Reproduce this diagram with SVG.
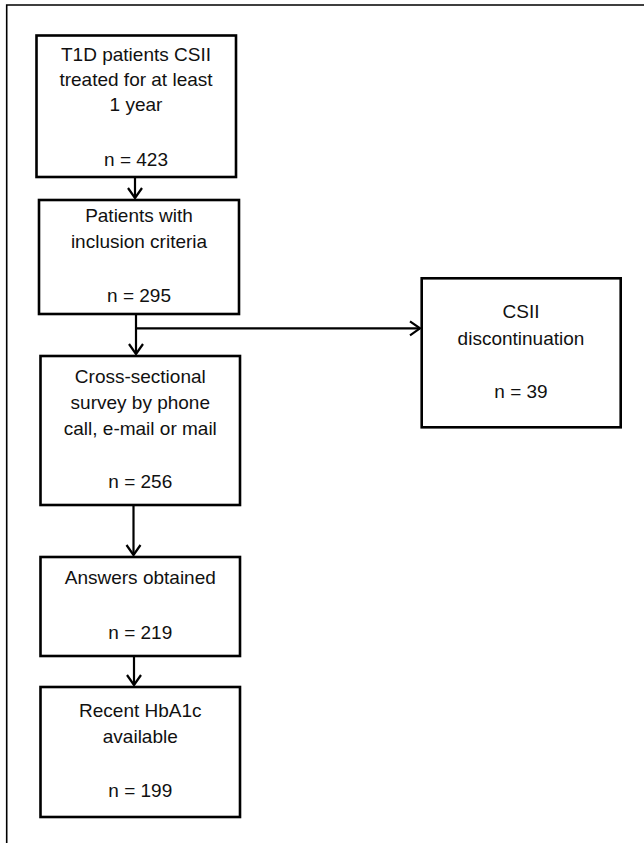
<svg xmlns="http://www.w3.org/2000/svg" width="644" height="843" viewBox="0 0 644 843">
<style>
.box{fill:#fff;stroke:#000;stroke-width:2.6}
.t{font-family:"Liberation Sans",Arial,sans-serif;font-size:19px;fill:#111;text-anchor:middle}
.c{fill:none;stroke:#000;stroke-width:2.2}
.frame{fill:none;stroke:#000;stroke-width:1.6}
</style>
<defs>
<marker id="arr" markerUnits="userSpaceOnUse" markerWidth="20" markerHeight="20" viewBox="-12 -10 14 20" refX="0" refY="0" orient="auto">
<path d="M-10,-7 L0,0 L-10,7" fill="none" stroke="#000" stroke-width="2.2" stroke-linejoin="miter"/>
</marker>
</defs>
<rect width="644" height="843" fill="#fff"/>
<path class="frame" d="M6.7,843 V5 H644"/>
<g id="connectors">
<line class="c" x1="135" y1="177" x2="135" y2="198" marker-end="url(#arr)"/>
<line class="c" x1="136" y1="314" x2="136" y2="354" marker-end="url(#arr)"/>
<line class="c" x1="136" y1="328.3" x2="420" y2="328.3" marker-end="url(#arr)"/>
<line class="c" x1="133.5" y1="505" x2="133.5" y2="555" marker-end="url(#arr)"/>
<line class="c" x1="134" y1="656" x2="134" y2="685" marker-end="url(#arr)"/>
</g>
<g id="n1">
<rect class="box" x="36.5" y="35.5" width="199.5" height="141.5"/>
<text class="t" x="136" y="61">T1D patients CSII</text>
<text class="t" x="136" y="85.5">treated for at least</text>
<text class="t" x="136" y="110.5">1 year</text>
<text class="t" x="136" y="166">n = 423</text>
</g>
<g id="n2">
<rect class="box" x="39" y="200" width="200" height="114"/>
<text class="t" x="139" y="221.5">Patients with</text>
<text class="t" x="139" y="248">inclusion criteria</text>
<text class="t" x="139" y="301.5">n = 295</text>
</g>
<g id="n3">
<rect class="box" x="40.5" y="356" width="199.5" height="149"/>
<text class="t" x="140.3" y="382.5">Cross-sectional</text>
<text class="t" x="140.3" y="408.5">survey by phone</text>
<text class="t" x="140.3" y="435">call, e-mail or mail</text>
<text class="t" x="140.3" y="488">n = 256</text>
</g>
<g id="n4">
<rect class="box" x="40.5" y="557" width="199.5" height="99"/>
<text class="t" x="140.3" y="584">Answers obtained</text>
<text class="t" x="140.3" y="639">n = 219</text>
</g>
<g id="n5">
<rect class="box" x="40.5" y="687" width="199.5" height="130"/>
<text class="t" x="140.3" y="716.5">Recent HbA1c</text>
<text class="t" x="140.3" y="743">available</text>
<text class="t" x="140.3" y="796.5">n = 199</text>
</g>
<g id="n6">
<rect class="box" x="421.7" y="278.3" width="199" height="149"/>
<text class="t" x="521" y="318.3">CSII</text>
<text class="t" x="521" y="345">discontinuation</text>
<text class="t" x="521" y="398.3">n = 39</text>
</g>
</svg>
